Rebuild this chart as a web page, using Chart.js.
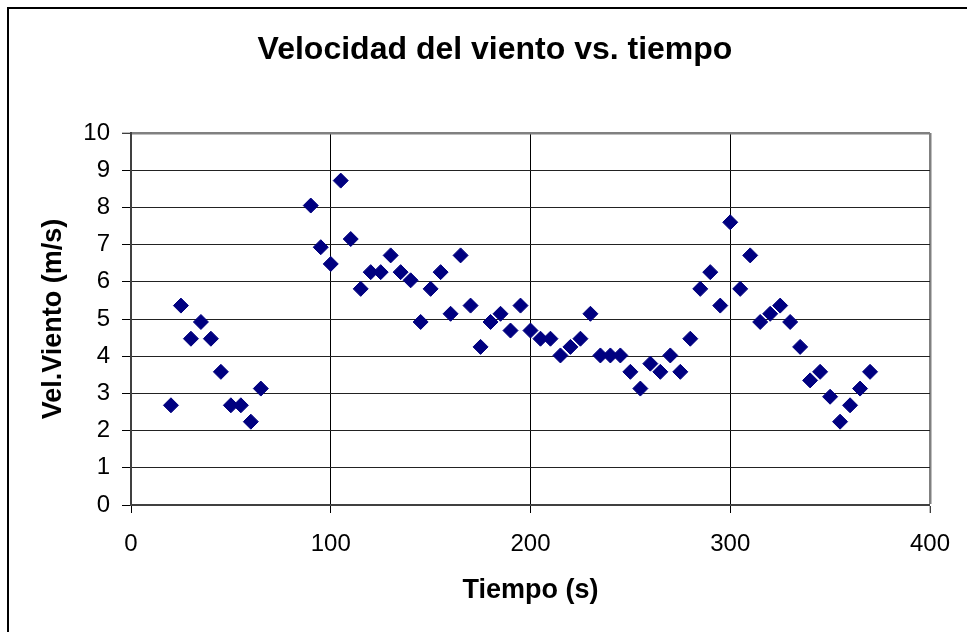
<!DOCTYPE html>
<html>
<head>
<meta charset="utf-8">
<script src="https://cdn.jsdelivr.net/npm/chart.js@4.4.1/dist/chart.umd.min.js"></script>
<style>
  html, body { margin: 0; padding: 0; background: #fff; }
  #wrap { width: 967px; height: 632px; }
</style>
</head>
<body>
<div id="wrap"><canvas id="c" width="967" height="632"></canvas></div>
<script>
const chartTitle = "Velocidad del viento vs. tiempo";
const xAxisTitle = "Tiempo (s)";
const yAxisTitle = "Vel.Viento (m/s)";
const timeValues = [20,25,30,35,40,45,50,55,60,65,
  90,95,100,105,110,115,120,125,130,135,140,145,150,155,160,165,170,175,180,185,
  190,195,200,205,210,215,220,225,230,235,240,245,250,255,260,265,270,275,280,285,
  290,295,300,305,310,315,320,325,330,335,340,345,350,355,360,365,370];
const speedValues = [2.68,5.36,4.47,4.92,4.47,3.58,2.68,2.68,2.24,3.13,
  8.05,6.93,6.48,8.72,7.15,5.81,6.26,6.26,6.71,6.26,6.04,4.92,5.81,6.26,5.14,6.71,5.36,4.25,4.92,5.14,
  4.69,5.36,4.69,4.47,4.47,4.02,4.25,4.47,5.14,4.02,4.02,4.02,3.58,3.13,3.80,3.58,4.02,3.58,4.47,5.81,
  6.26,5.36,7.60,5.81,6.71,4.92,5.14,5.36,4.92,4.25,3.35,3.58,2.91,2.24,2.68,3.13,3.58];
const xTicks = [0,100,200,300,400];
const yTicks = [0,1,2,3,4,5,6,7,8,9,10];

const points = timeValues.map((t, i) => ({ x: t, y: speedValues[i] }));
const FONT = "'Liberation Sans', Arial, sans-serif";

const frame = {
  id: 'frame',
  beforeDraw(chart) {
    const c = chart.ctx;
    c.save();
    c.fillStyle = '#fff';
    c.fillRect(0, 0, chart.width, chart.height);
    c.strokeStyle = '#000';
    c.lineWidth = 2;
    c.strokeRect(8, 8, 1200, 1200);
    c.restore();
  },
  afterDraw(chart) {
    const c = chart.ctx;
    c.save();
    c.fillStyle = '#000';
    c.font = "bold 32px " + FONT;
    c.textAlign = 'center';
    c.textBaseline = 'middle';
    c.fillText(chartTitle, 495, 50);
    c.restore();
  }
};

new Chart(document.getElementById('c'), {
  type: 'scatter',
  data: {
    datasets: [{
      data: points,
      pointStyle: 'rectRot',
      pointRadius: 7.5,
      pointHoverRadius: 7.5,
      backgroundColor: '#000080',
      borderColor: '#000080',
      borderWidth: 1
    }]
  },
  options: {
    responsive: false,
    animation: false,
    devicePixelRatio: 1,
    layout: { padding: { left: 0, top: 133, right: 34, bottom: 0 } },
    plugins: {
      legend: { display: false },
      tooltip: { enabled: false },
      title: { display: false }
    },
    scales: {
      x: {
        type: 'linear',
        min: 0, max: 400,
        afterBuildTicks: s => { s.ticks = xTicks.map(v => ({ value: v })); },
        afterFit: s => { s.height = 127; },
        ticks: { color: '#000', font: { family: FONT, size: 24 }, padding: 17, maxRotation: 0 },
        grid: {
          color: ctx => (ctx.tick && ctx.tick.value === 400) ? '#808080' : '#000',
          lineWidth: ctx => (ctx.tick && ctx.tick.value === 400) ? 2.5 : 1,
          tickColor: '#000',
          tickWidth: 1,
          tickLength: 8
        },
        border: { display: true, color: '#404040', width: 2 },
        title: {
          display: true, text: xAxisTitle, color: '#000',
          font: { family: FONT, size: 27, weight: 'bold' },
          padding: { top: 0, bottom: 25 }
        }
      },
      y: {
        type: 'linear',
        min: 0, max: 10,
        afterBuildTicks: s => { s.ticks = yTicks.map(v => ({ value: v })); },
        afterFit: s => { s.width = 131; },
        ticks: { color: '#000', font: { family: FONT, size: 24 }, padding: 12 },
        grid: {
          color: ctx => (ctx.tick && ctx.tick.value === 10) ? '#808080' : '#222',
          lineWidth: ctx => (ctx.tick && ctx.tick.value === 10) ? 2.5 : 1,
          tickColor: '#000',
          tickWidth: 1,
          tickLength: 9
        },
        border: { display: true, color: '#404040', width: 2 },
        title: {
          display: true, text: yAxisTitle, color: '#000',
          font: { family: FONT, size: 27, weight: 'bold' },
          padding: { top: 37, bottom: 0 }
        }
      }
    }
  },
  plugins: [frame]
});
</script>
</body>
</html>
